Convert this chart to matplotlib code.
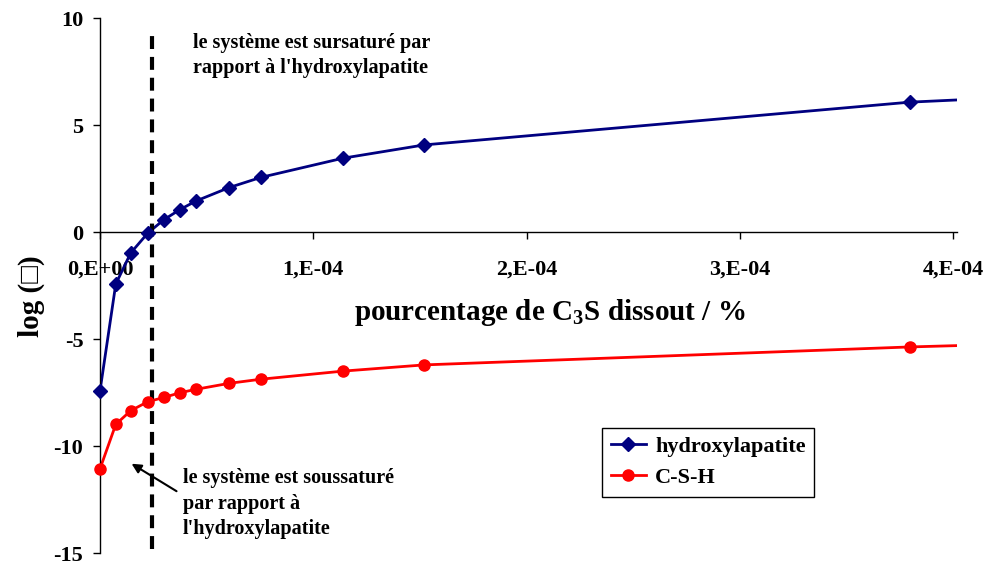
import matplotlib
matplotlib.use("Agg")
import matplotlib.pyplot as plt
from matplotlib.lines import Line2D

plt.rcParams["font.family"] = ["Liberation Serif", "DejaVu Serif"]
plt.rcParams["font.weight"] = "bold"
plt.rcParams["axes.unicode_minus"] = False
plt.rcParams["mathtext.fontset"] = "custom"
plt.rcParams["mathtext.rm"] = "Liberation Serif:bold"
plt.rcParams["mathtext.bf"] = "Liberation Serif:bold"

# % of C3S dissolved (last value lies past the axis end, the line is cut there)
x_pct = [0.0, 0.074e-4, 0.144e-4, 0.224e-4, 0.300e-4, 0.375e-4, 0.450e-4,
         0.606e-4, 0.753e-4, 1.139e-4, 1.519e-4, 3.797e-4, 4.40e-4]
log_hap = [-7.43, -2.43, -0.98, -0.05, 0.58, 1.05, 1.45,
           2.08, 2.55, 3.45, 4.07, 6.07, 6.35]
log_csh = [-11.07, -8.99, -8.35, -7.93, -7.73, -7.51, -7.35,
           -7.07, -6.88, -6.50, -6.21, -5.37, -5.20]
n_shown = 12  # points inside the axis range

x_ticks = [0, 1e-4, 2e-4, 3e-4, 4e-4]
x_ticklabels = ["0,E+00", "1,E-04", "2,E-04", "3,E-04", "4,E-04"]
y_ticks = [-15, -10, -5, 0, 5, 10]

threshold_x = 0.244e-4

fig = plt.figure(figsize=(9.87, 5.64), dpi=100)
ax = fig.add_axes([0.1013, 0.0195, 0.8688, 0.9485])

navy = "#000080"
red = "#FF0000"

# lines (clipped at the axis end) and markers (not clipped at x=0)
ax.plot(x_pct, log_hap, color=navy, lw=2)
ax.plot(x_pct, log_csh, color=red, lw=2)
ax.plot(x_pct[:n_shown], log_hap[:n_shown], ls="none", marker="D",
        ms=7.5, color=navy, clip_on=False, zorder=3)
ax.plot(x_pct[:n_shown], log_csh[:n_shown], ls="none", marker="o",
        ms=8, color=red, clip_on=False, zorder=3)

# dashed limit line
ax.vlines(threshold_x, -14.8, 9.2, colors="black", lw=3,
          linestyles=(0, (3.1, 1.9)))

ax.set_xlim(0, 4.02e-4)
ax.set_ylim(-15, 10)
ax.set_xticks(x_ticks)
ax.set_xticklabels(x_ticklabels)
ax.set_yticks(y_ticks)

for s in ["top", "right"]:
    ax.spines[s].set_visible(False)
ax.spines["bottom"].set_position(("data", 0))
ax.spines["bottom"].set_linewidth(1)
ax.spines["left"].set_linewidth(1)

ax.tick_params(axis="x", direction="out", length=5, width=1,
               pad=15, labelsize=16)
ax.tick_params(axis="y", direction="out", length=5, width=1,
               pad=7, labelsize=16)
for lab in ax.get_xticklabels() + ax.get_yticklabels():
    lab.set_fontweight("bold")

ax.text(0.525, 0.478, "pourcentage de C$_3$S dissout / %",
        transform=ax.transAxes, ha="center", va="top",
        fontsize=21, fontweight="bold")
ax.text(-0.08, 0.48, "log (\u25a1)", transform=ax.transAxes,
        ha="center", va="center", rotation=90,
        fontsize=21, fontweight="bold")

ax.text(0.436e-4, 9.3, "le système est sursaturé par\nrapport à l'hydroxylapatite",
        ha="left", va="top", fontsize=14.5, fontweight="bold", linespacing=1.3)
ax.text(0.389e-4, -11.05, "le système est soussaturé\npar rapport à\nl'hydroxylapatite",
        ha="left", va="top", fontsize=14.5, fontweight="bold", linespacing=1.35)
ax.annotate("", xy=(0.137e-4, -10.76), xytext=(0.370e-4, -12.18),
            arrowprops=dict(arrowstyle="-|>", color="black", lw=1.5,
                            mutation_scale=14))

handles = [
    Line2D([], [], color=navy, lw=2, marker="D", ms=7.5),
    Line2D([], [], color=red, lw=2, marker="o", ms=8),
]
leg = ax.legend(handles, ["hydroxylapatite", "C-S-H"], loc="upper left",
                bbox_to_anchor=(0.585, 0.234), borderaxespad=0,
                fancybox=False, framealpha=1, edgecolor="black",
                handlelength=1.6, handletextpad=0.4, labelspacing=0.45,
                borderpad=0.4, prop={"size": 16, "weight": "bold"})
leg.get_frame().set_linewidth(1)

fig.savefig("out.png", dpi=100)
